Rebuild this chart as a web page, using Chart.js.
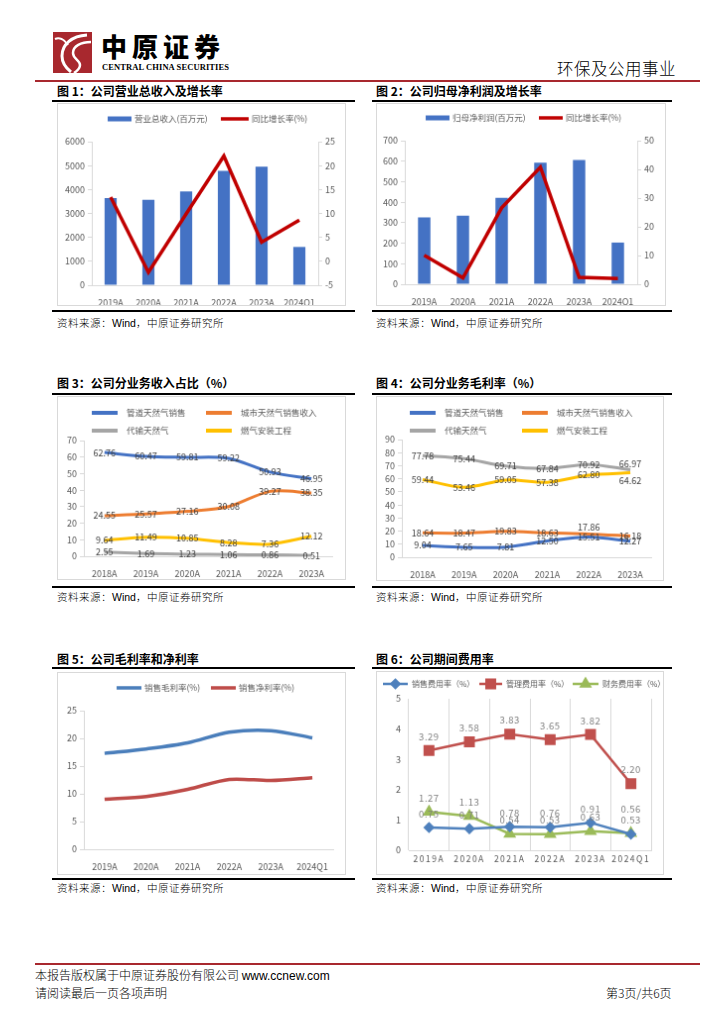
<!DOCTYPE html>
<html>
<head>
<meta charset="utf-8">
<script src="https://cdn.jsdelivr.net/npm/chart.js@4.4.1/dist/chart.umd.min.js"></script>
<style>
body{margin:0;width:724px;height:1024px;background:#fff;position:relative;overflow:hidden;font-family:"Noto Sans CJK SC",sans-serif}
.abs{position:absolute}
.ttl{position:absolute;font-size:12px;font-weight:700;color:#000;line-height:14px;white-space:nowrap}
.rule{position:absolute;height:2px;background:#000}
.src{position:absolute;font-size:10.5px;color:#000;line-height:12px;font-weight:300;letter-spacing:0.5px;white-space:nowrap}
.src span{font-family:"Liberation Sans",sans-serif;letter-spacing:0}
canvas{position:absolute;border:1px solid #D9D9D9}
</style>
</head>
<body>

<!-- header -->
<svg class="abs" style="left:53px;top:32px" width="39" height="41" viewBox="0 0 39 41">
  <rect width="39" height="41" fill="#A8282E"/>
  <path d="M34 3 C19 4 9 12 9 24 C9 31 13 36 18 40" stroke="#fff" stroke-width="3" fill="none"/>
  <path d="M38 10 C28 10 20 14 20 21 C20 27 27 28 27 33 C27 37 24 39 21 41" stroke="#fff" stroke-width="2.5" fill="none"/>
  <path d="M15 13 C11 7 6 5 2 7" stroke="#fff" stroke-width="2" fill="none"/>
</svg>
<div class="abs" style="left:101px;top:31px;font-size:26px;font-weight:900;letter-spacing:5px;line-height:30px">中原证券</div>
<div class="abs" style="left:102px;top:62px;font-family:'Liberation Serif',serif;font-weight:700;font-size:8.5px;line-height:10px;letter-spacing:0.1px">CENTRAL CHINA SECURITIES</div>
<div class="abs" style="left:557px;top:58px;font-size:16.5px;font-weight:300;line-height:20px;letter-spacing:0.5px">环保及公用事业</div>
<div class="abs" style="left:35px;top:80px;width:665px;height:2px;background:#A8282E"></div>

<!-- titles and rules -->
<div class="ttl" style="left:57px;top:84px">图 1：公司营业总收入及增长率</div>
<div class="ttl" style="left:376px;top:84px">图 2：公司归母净利润及增长率</div>
<div class="rule" style="left:52px;top:100px;width:303px"></div>
<div class="rule" style="left:372px;top:100px;width:300px"></div>

<div class="ttl" style="left:57px;top:376px">图 3：公司分业务收入占比（%）</div>
<div class="ttl" style="left:376px;top:376px">图 4：公司分业务毛利率（%）</div>
<div class="rule" style="left:52px;top:393px;width:303px"></div>
<div class="rule" style="left:372px;top:393px;width:300px"></div>

<div class="ttl" style="left:57px;top:652px">图 5：公司毛利率和净利率</div>
<div class="ttl" style="left:376px;top:652px">图 6：公司期间费用率</div>
<div class="rule" style="left:52px;top:667px;width:303px"></div>
<div class="rule" style="left:372px;top:667px;width:300px"></div>

<canvas id="c1" width="289" height="203" style="left:57px;top:103px"></canvas>
<canvas id="c2" width="290" height="203" style="left:376px;top:103px"></canvas>
<canvas id="c3" width="289" height="184" style="left:57px;top:396px"></canvas>
<canvas id="c4" width="288" height="185" style="left:376px;top:396px"></canvas>
<canvas id="c5" width="289" height="203" style="left:57px;top:672px"></canvas>
<canvas id="c6" width="288" height="204" style="left:376px;top:671px"></canvas>

<div class="rule" style="left:52px;top:310px;width:303px"></div>
<div class="rule" style="left:372px;top:310px;width:300px"></div>
<div class="rule" style="left:52px;top:586px;width:303px"></div>
<div class="rule" style="left:372px;top:586px;width:300px"></div>
<div class="rule" style="left:52px;top:878px;width:303px"></div>
<div class="rule" style="left:372px;top:878px;width:300px"></div>

<div class="src" style="left:57px;top:317px">资料来源：<span>Wind</span>，中原证券研究所</div>
<div class="src" style="left:376px;top:317px">资料来源：<span>Wind</span>，中原证券研究所</div>
<div class="src" style="left:57px;top:591px">资料来源：<span>Wind</span>，中原证券研究所</div>
<div class="src" style="left:376px;top:591px">资料来源：<span>Wind</span>，中原证券研究所</div>
<div class="src" style="left:57px;top:882px">资料来源：<span>Wind</span>，中原证券研究所</div>
<div class="src" style="left:376px;top:882px">资料来源：<span>Wind</span>，中原证券研究所</div>

<!-- footer -->
<div class="abs" style="left:35px;top:963px;width:665px;height:2px;background:#A8282E"></div>
<div class="abs" style="left:35px;top:967px;font-size:12px;font-weight:300;line-height:16px">本报告版权属于中原证券股份有限公司 <span style="font-family:'Liberation Sans',sans-serif;font-weight:400">www.ccnew.com</span></div>
<div class="abs" style="left:35px;top:985px;font-size:12px;font-weight:300;line-height:16px">请阅读最后一页各项声明</div>
<div class="abs" style="left:606px;top:985px;font-size:12px;font-weight:300;line-height:16px">第3页/共6页</div>

<script>
//Categories
var years19 = ['2019A', '2020A', '2021A', '2022A', '2023A', '2024Q1'];
var years18 = ['2018A', '2019A', '2020A', '2021A', '2022A', '2023A'];

//Fig 1 - revenue (million yuan) and yoy growth (%)
var revenue = [3640, 3570, 3920, 4780, 4960, 1600];
var revenueGrowth = [13.4, -2.3, 9.9, 22.0, 4.0, 8.6];

//Fig 2 - net profit attributable (million yuan) and yoy growth (%)
var netProfit = [326, 334, 421, 592, 606, 203];
var netProfitGrowth = [10.1, 2.2, 26.6, 40.8, 2.4, 2.0];

//Fig 3 - revenue share by business (%)
var shrPipeline = [62.76, 60.47, 59.81, 59.22, 50.93, 46.95];
var shrCity = [24.55, 25.57, 27.16, 30.08, 39.27, 38.35];
var shrTransport = [2.55, 1.69, 1.23, 1.06, 0.86, 0.51];
var shrInstall = [9.64, 11.49, 10.85, 8.28, 7.36, 12.12];

//Fig 4 - gross margin by business (%)
var gmPipeline = [9.04, 7.65, 7.81, 12.50, 15.51, 12.27];
var gmCity = [18.64, 18.47, 19.83, 18.63, 17.86, 16.18];
var gmTransport = [77.78, 75.44, 69.71, 67.84, 70.92, 66.97];
var gmInstall = [59.44, 53.46, 59.05, 57.38, 62.80, 64.62];

//Fig 5 - gross and net margin (%)
var grossMargin = [17.3, 18.1, 19.2, 21.1, 21.4, 20.1];
var netMargin = [9.0, 9.5, 10.8, 12.6, 12.4, 12.9];

//Fig 6 - expense ratios (%)
var sellRate = [0.75, 0.71, 0.78, 0.76, 0.91, 0.53];
var adminRate = [3.29, 3.58, 3.83, 3.65, 3.82, 2.20];
var finRate = [1.27, 1.13, 0.54, 0.53, 0.63, 0.56];

var tickCol = '#595959';
var axisCol = '#D9D9D9';
var fam = '"Noto Sans CJK SC", "Liberation Sans", sans-serif';

Chart.defaults.font.family = fam;
Chart.defaults.animation = false;
Chart.defaults.responsive = false;
Chart.defaults.plugins.legend.display = false;
Chart.defaults.plugins.tooltip.enabled = false;

//Legend drawn at fixed spots, one item per dataset
const fixedLegend = {
  id: 'fixedLegend',
  afterDraw(chart, args, o) {
    if (!o.items) return;
    const ctx = chart.ctx;
    ctx.save();
    ctx.font = o.font;
    ctx.textBaseline = 'middle';
    ctx.textAlign = 'left';
    chart.data.datasets.forEach(function(ds, i) {
      const it = o.items[i];
      if (it.kind === 'rect') {
        ctx.fillStyle = ds.backgroundColor;
        ctx.fillRect(it.x, it.y - 2.5, it.len, 5);
      } else {
        ctx.strokeStyle = ds.borderColor;
        ctx.lineWidth = o.lineWidth;
        ctx.beginPath();
        ctx.moveTo(it.x, it.y);
        ctx.lineTo(it.x + it.len, it.y);
        ctx.stroke();
        if (it.kind === 'marker') {
          ctx.fillStyle = ds.pointBackgroundColor;
          ctx.strokeStyle = ds.pointBorderColor;
          Chart.helpers.drawPoint(ctx, {pointStyle: ds.pointStyle, radius: ds.pointRadius, borderWidth: 1, rotation: 0}, it.x + it.len / 2, it.y);
        }
      }
      ctx.fillStyle = o.color;
      ctx.fillText(ds.label, it.x + it.len + o.gap, it.y);
    });
    ctx.restore();
  }
};

//Value labels on points
const valueLabels = {
  id: 'valueLabels',
  afterDatasetsDraw(chart, args, o) {
    if (!o.show) return;
    const ctx = chart.ctx;
    ctx.save();
    ctx.font = o.font;
    ctx.fillStyle = o.color;
    ctx.textAlign = 'center';
    ctx.textBaseline = 'middle';
    ctx.letterSpacing = o.spacing || '0px';
    chart.data.datasets.forEach(function(ds, i) {
      chart.getDatasetMeta(i).data.forEach(function(pt, j) {
        var key = i + '-' + j;
        var dy = (o.shift && o.shift[key] !== undefined) ? o.shift[key] : (o.dy || 0);
        ctx.fillText(ds.data[j].toFixed(2), pt.x, pt.y + dy);
      });
    });
    ctx.restore();
  }
};

//Letter spacing for x tick labels
const spacedTicks = {
  id: 'spacedTicks',
  afterLayout(chart, args, o) {
    if (!o.spacing) return;
    const s = chart.scales.x;
    if (s._spaced) return;
    const orig = s.drawLabels.bind(s);
    s.drawLabels = function(area) {
      chart.ctx.save();
      chart.ctx.letterSpacing = o.spacing;
      orig(area);
      chart.ctx.restore();
    };
    s._spaced = true;
  }
};

Chart.register(fixedLegend, valueLabels, spacedTicks);

function xAxis(h, extra) {
  var ax = {
    type: 'category',
    offset: true,
    grid: {display: false},
    border: {color: axisCol},
    ticks: {color: tickCol, font: {size: 9}, padding: 4, maxRotation: 0, autoSkip: false},
    afterFit: function(s) { s.height = h; }
  };
  return Object.assign(ax, extra || {});
}

function yAxis(pos, min, max, step, w, extra) {
  var ax = {
    position: pos,
    min: min,
    max: max,
    grid: {drawOnChartArea: false, drawTicks: true, tickLength: 4, color: axisCol},
    border: {color: axisCol},
    ticks: {stepSize: step, color: tickCol, font: {size: 9}, padding: 3, autoSkip: false,
      callback: function(v) { return String(v); }},
    afterFit: function(s) { s.width = w; }
  };
  return Object.assign(ax, extra || {});
}

var legFont = '8.5px ' + fam;

//Fig 1
new Chart(document.getElementById('c1'), {
  data: {
    labels: years19,
    datasets: [
      {type: 'bar', label: '营业总收入(百万元)', data: revenue, yAxisID: 'y', backgroundColor: '#4472C4', barPercentage: 0.32, categoryPercentage: 1, order: 1},
      {type: 'line', label: '同比增长率(%)', data: revenueGrowth, yAxisID: 'y1', borderColor: '#C00000', borderWidth: 3.5, pointRadius: 0, tension: 0, order: 0}
    ]
  },
  options: {
    layout: {padding: {top: 38}},
    plugins: {
      fixedLegend: {font: legFont, color: tickCol, gap: 3, lineWidth: 3.5,
        items: [{kind: 'rect', x: 50, y: 15, len: 24}, {kind: 'line', x: 164, y: 15, len: 28}]}
    },
    scales: {
      x: xAxis(20),
      y: yAxis('left', 0, 6000, 1000, 34),
      y1: yAxis('right', -5, 25, 5, 27)
    }
  }
});

//Fig 2
new Chart(document.getElementById('c2'), {
  data: {
    labels: years19,
    datasets: [
      {type: 'bar', label: '归母净利润(百万元)', data: netProfit, yAxisID: 'y', backgroundColor: '#4472C4', barPercentage: 0.32, categoryPercentage: 1, order: 1},
      {type: 'line', label: '同比增长率(%)', data: netProfitGrowth, yAxisID: 'y1', borderColor: '#C00000', borderWidth: 3.5, pointRadius: 0, tension: 0, order: 0}
    ]
  },
  options: {
    layout: {padding: {top: 37}},
    plugins: {
      fixedLegend: {font: legFont, color: tickCol, gap: 3, lineWidth: 3.5,
        items: [{kind: 'rect', x: 49, y: 14, len: 24}, {kind: 'line', x: 163, y: 14, len: 24}]}
    },
    scales: {
      x: xAxis(21),
      y: yAxis('left', 0, 700, 100, 28),
      y1: yAxis('right', 0, 50, 10, 28)
    }
  }
});

function fourLines(id, a, b, c, d, max, pad, lw, legX, shift) {
  new Chart(document.getElementById(id), {
    type: 'line',
    data: {
      labels: years18,
      datasets: [
        {label: '管道天然气销售', data: a, borderColor: '#4472C4', borderWidth: 3, pointRadius: 0, tension: 0.3},
        {label: '城市天然气销售收入', data: b, borderColor: '#ED7D31', borderWidth: 3, pointRadius: 0, tension: 0.3},
        {label: '代输天然气', data: c, borderColor: '#A5A5A5', borderWidth: 3, pointRadius: 0, tension: 0.3},
        {label: '燃气安装工程', data: d, borderColor: '#FFC000', borderWidth: 3, pointRadius: 0, tension: 0.3}
      ]
    },
    options: {
      layout: {padding: {top: pad.top, right: pad.right}},
      plugins: {
        fixedLegend: {font: legFont, color: tickCol, gap: 9, lineWidth: 4,
          items: [
            {kind: 'line', x: legX[0], y: 16, len: 26},
            {kind: 'line', x: legX[1], y: 16, len: 26},
            {kind: 'line', x: legX[0], y: 34, len: 26},
            {kind: 'line', x: legX[1], y: 34, len: 26}
          ]},
        valueLabels: {show: true, font: '9px ' + fam, color: '#404040', dy: 0, shift: shift}
      },
      scales: {
        x: xAxis(pad.bottom),
        y: yAxis('left', 0, max, 10, lw)
      }
    }
  });
}

//Fig 3
fourLines('c3', shrPipeline, shrCity, shrTransport, shrInstall, 70,
  {top: 44, right: 13, bottom: 23}, 26, [34, 149], {});

//Fig 4
fourLines('c4', gmPipeline, gmCity, gmTransport, gmInstall, 90,
  {top: 43, right: 12, bottom: 23}, 25, [33, 146], {'1-4': -7, '2-5': -6, '3-5': 8});

//Fig 5
new Chart(document.getElementById('c5'), {
  type: 'line',
  data: {
    labels: years19,
    datasets: [
      {label: '销售毛利率(%)', data: grossMargin, borderColor: '#4A7EBB', borderWidth: 3.5, pointRadius: 0, tension: 0.3},
      {label: '销售净利率(%)', data: netMargin, borderColor: '#BE4B48', borderWidth: 3.5, pointRadius: 0, tension: 0.3}
    ]
  },
  options: {
    layout: {padding: {top: 38, right: 12}},
    plugins: {
      fixedLegend: {font: legFont, color: tickCol, gap: 3, lineWidth: 3.5,
        items: [{kind: 'line', x: 59, y: 15, len: 25}, {kind: 'line', x: 154, y: 15, len: 25}]}
    },
    scales: {
      x: xAxis(25),
      y: yAxis('left', 0, 25, 5, 26)
    }
  }
});

//Fig 6
new Chart(document.getElementById('c6'), {
  type: 'line',
  data: {
    labels: years19,
    datasets: [
      {label: '销售费用率（%）', data: sellRate, borderColor: '#4F81BD', borderWidth: 2.5, tension: 0,
        pointStyle: 'rectRot', pointRadius: 4, pointBackgroundColor: '#4F81BD', pointBorderColor: '#4F81BD'},
      {label: '管理费用率（%）', data: adminRate, borderColor: '#C0504D', borderWidth: 2.5, tension: 0,
        pointStyle: 'rect', pointRadius: 6, pointBackgroundColor: '#C0504D', pointBorderColor: '#C0504D'},
      {label: '财务费用率（%）', data: finRate, borderColor: '#9BBB59', borderWidth: 2.5, tension: 0,
        pointStyle: 'triangle', pointRadius: 5, pointBackgroundColor: '#9BBB59', pointBorderColor: '#9BBB59'}
    ]
  },
  options: {
    layout: {padding: {top: 27, right: 12}},
    plugins: {
      fixedLegend: {font: '8px ' + fam, color: tickCol, gap: 4, lineWidth: 2.5,
        items: [{kind: 'marker', x: 6, y: 12, len: 25}, {kind: 'marker', x: 103, y: 12, len: 23}, {kind: 'marker', x: 197, y: 12, len: 26}]},
      valueLabels: {show: true, font: '9.5px ' + fam, color: '#7F7F7F', dy: -14, spacing: '0.5px', shift: {'2-5': -24}},
      spacedTicks: {spacing: '1.5px'}
    },
    scales: {
      x: xAxis(24, {grid: {display: true, offset: true, color: axisCol, drawTicks: false},
        ticks: {color: tickCol, font: {size: 8.5}, padding: 4, maxRotation: 0, autoSkip: false}}),
      y: yAxis('left', 0, 5, 1, 32, {grid: {display: false, drawTicks: false}, border: {display: false},
        ticks: {stepSize: 1, color: tickCol, font: {size: 9}, padding: 8, autoSkip: false}})
    }
  }
});
</script>
</body>
</html>
